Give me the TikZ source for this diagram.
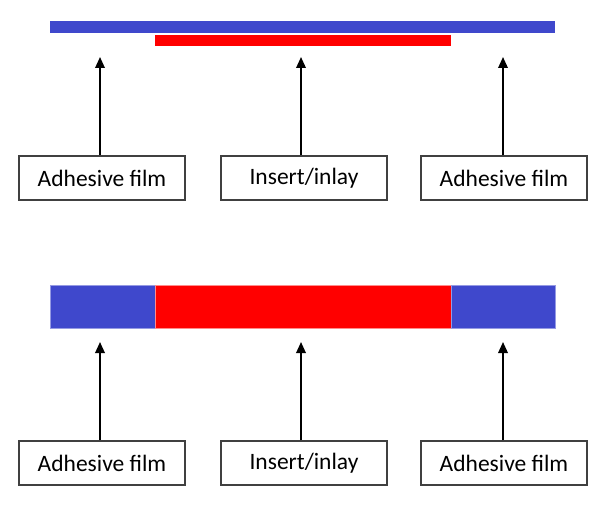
\documentclass[tikz,border=0pt]{standalone}
\usepackage{fontspec}
\setmainfont{Carlito}
\usetikzlibrary{arrows.meta,positioning}
\definecolor{filmblue}{RGB}{63,72,204}
\definecolor{inlayred}{RGB}{255,0,0}
\tikzset{
    label box/.style={rectangle, draw=black!75, line width=1.3pt, minimum width=166pt, minimum height=44pt, font=\fontsize{23.5}{27}\selectfont, inner sep=0pt},
    pointer/.style={-{Triangle[length=11pt,width=9.5pt]}, line width=1.8pt, black},
    bar edge/.style={line width=0.8pt}
}

\begin{document}
\begin{tikzpicture}[x=1pt,y=-1pt]
    \useasboundingbox (0,0) rectangle (601,508);

    % Top layout: thin film over a narrower insert
    \fill[filmblue] (50,21) rectangle (555,33);
    \fill[inlayred] (155,35) rectangle (451,46);
    \coordinate (T1) at (100,57);
    \coordinate (T2) at (301,57);
    \coordinate (T3) at (503,57);

    \node[label box] (A1) at (102,178) {Adhesive film};
    \node[label box] (I1) at (304,178) {Insert/inlay};
    \node[label box] (A2) at (504,178) {Adhesive film};

    \draw[pointer] (A1.north -| T1) -- (T1);
    \draw[pointer] (I1.north -| T2) -- (T2);
    \draw[pointer] (A2.north -| T3) -- (T3);

    % Bottom layout: film and insert side by side
    \filldraw[filmblue, draw=filmblue!55!white, bar edge] (50,285) rectangle (155,328);
    \filldraw[inlayred, draw=inlayred!45!white, bar edge] (155,285) rectangle (451,328);
    \filldraw[filmblue, draw=filmblue!55!white, bar edge] (451,285) rectangle (555,328);
    \coordinate (B1) at (100,342);
    \coordinate (B2) at (301,342);
    \coordinate (B3) at (503,342);

    \node[label box] (A3) at (102,463) {Adhesive film};
    \node[label box] (I2) at (304,463) {Insert/inlay};
    \node[label box] (A4) at (504,463) {Adhesive film};

    \draw[pointer] (A3.north -| B1) -- (B1);
    \draw[pointer] (I2.north -| B2) -- (B2);
    \draw[pointer] (A4.north -| B3) -- (B3);
\end{tikzpicture}
\end{document}
